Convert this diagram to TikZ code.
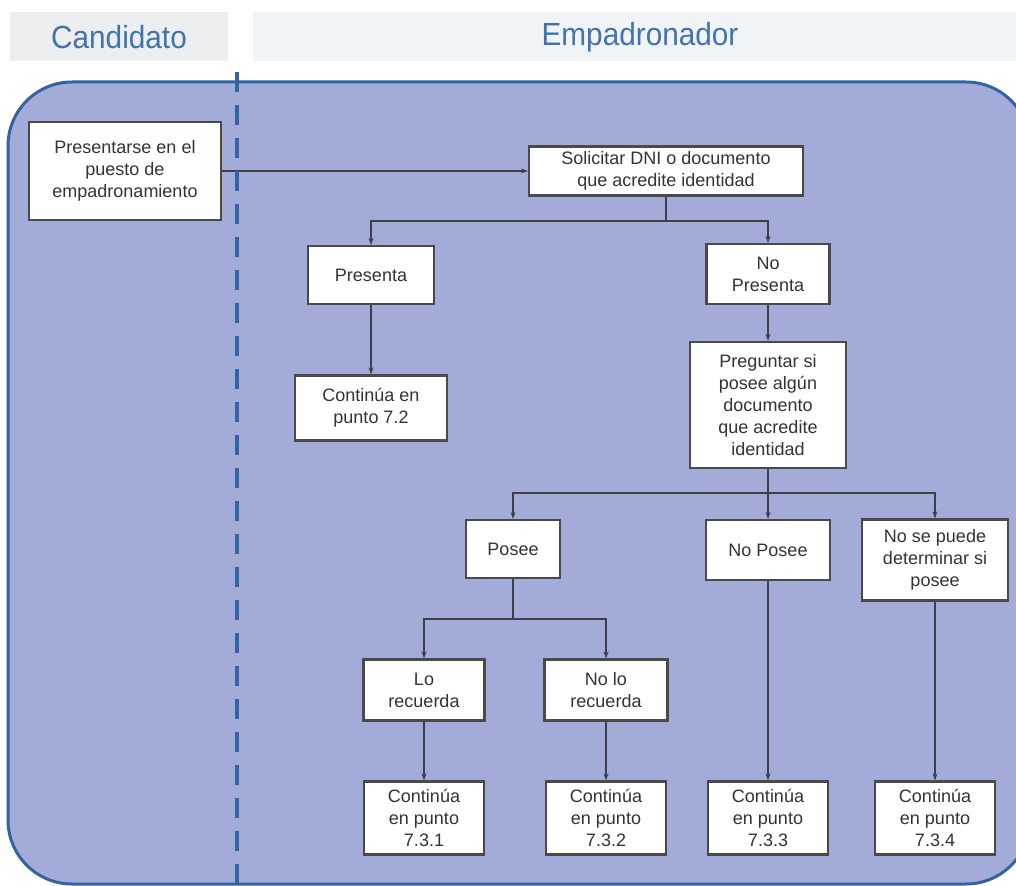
\documentclass[tikz,border=0pt]{standalone}
\usepackage{fontspec}
\setmainfont{Liberation Sans}
\usetikzlibrary{arrows.meta}
\definecolor{lanefill}{HTML}{A3ABD8}
\definecolor{laneborder}{HTML}{3263A2}
\definecolor{headA}{HTML}{ECEEEF}
\definecolor{headB}{HTML}{F0F4F7}
\definecolor{headtext}{HTML}{4273AD}
\definecolor{boxborder}{HTML}{4A4A4A}
\definecolor{boxtext}{HTML}{333333}
\definecolor{linecol}{HTML}{3F3F4A}
\tikzset{
  box/.style={draw=boxborder, line width=2.2pt, fill=white, align=center, inner sep=2pt,
    text=boxtext, font=\fontsize{18}{22}\selectfont},
  arr/.style={draw=linecol, line width=1.4pt, -{Stealth[length=7pt,width=5pt]}},
  ln/.style={draw=linecol, line width=1.4pt},
  headtxt/.style={text=headtext, font=\fontsize{32}{34}\selectfont}
}
\begin{document}
\begin{tikzpicture}[x=1pt,y=-1pt]
\useasboundingbox (0,0) rectangle (1016,885);
\clip (0,0) rectangle (1016,885);
% header bars
\fill[headA] (10,12) rectangle (228,61);
\fill[headB] (253,12) rectangle (1016,61);
\node[headtxt] (hcand) at (119,37) {\scalebox{0.93}[1]{Candidato}};
\node[headtxt] (hemp) at (640,37) {\scalebox{0.93}[1]{Empadronador}};
% lane
\draw[fill=lanefill, draw=laneborder, line width=3pt, rounded corners=64pt] (8,82) rectangle (1030,884);
% nodes
\node[box, minimum width=192pt, minimum height=98pt] (pres) at (125,171) {Presentarse en el\\puesto de\\empadronamiento};
\node[box, minimum width=274pt, minimum height=49pt] (sol) at (666,171) {Solicitar DNI o documento\\que acredite identidad};
\node[box, minimum width=126pt, minimum height=58pt] (presenta) at (371,275) {Presenta};
\node[box, minimum width=123pt, minimum height=60pt] (nopres) at (768,274) {No\\Presenta};
\node[box, minimum width=152pt, minimum height=65pt] (c72) at (371,408) {Continúa en\\punto 7.2};
\node[box, minimum width=156pt, minimum height=126pt] (preg) at (768,405) {Preguntar si\\posee algún\\documento\\que acredite\\identidad};
\node[box, minimum width=94pt, minimum height=58pt] (posee) at (513,549) {Posee};
\node[box, minimum width=124pt, minimum height=60pt] (noposee) at (768,550) {No Posee};
\node[box, minimum width=146pt, minimum height=81pt] (nsp) at (935,560) {No se puede\\determinar si\\posee};
\node[box, minimum width=121pt, minimum height=61pt] (lo) at (424,690) {Lo\\recuerda};
\node[box, minimum width=123pt, minimum height=61pt] (nolo) at (606,690) {No lo\\recuerda};
\node[box, minimum width=120pt, minimum height=73pt] (c731) at (424,818) {Continúa\\en punto\\7.3.1};
\node[box, minimum width=120pt, minimum height=73pt] (c732) at (606,818) {Continúa\\en punto\\7.3.2};
\node[box, minimum width=120pt, minimum height=73pt] (c733) at (768,818) {Continúa\\en punto\\7.3.3};
\node[box, minimum width=120pt, minimum height=73pt] (c734) at (935,818) {Continúa\\en punto\\7.3.4};
% connectors
\coordinate (j1) at (666,221);
\coordinate (j2) at (768,493);
\coordinate (j3) at (513,619);
\draw[arr] (pres.east) -- (sol.west);
\draw[ln] (sol.south) -- (j1);
\draw[arr] (j1) -| (presenta.north);
\draw[arr] (j1) -| (nopres.north);
\draw[arr] (presenta.south) -- (c72.north);
\draw[arr] (nopres.south) -- (preg.north);
\draw[ln] (preg.south) -- (j2);
\draw[arr] (j2) -| (posee.north);
\draw[arr] (j2) -- (noposee.north);
\draw[arr] (j2) -| (nsp.north);
\draw[ln] (posee.south) -- (j3);
\draw[arr] (j3) -| (lo.north);
\draw[arr] (j3) -| (nolo.north);
\draw[arr] (lo.south) -- (c731.north);
\draw[arr] (nolo.south) -- (c732.north);
\draw[arr] (noposee.south) -- (c733.north);
\draw[arr] (nsp.south) -- (c734.north);
% lane divider
\coordinate (dtop) at (237,72);
\coordinate (dbot) at (237,890);
\draw[laneborder, line width=4.5pt, dash pattern=on 20pt off 13pt] (dtop) -- (dbot);
\end{tikzpicture}
\end{document}
